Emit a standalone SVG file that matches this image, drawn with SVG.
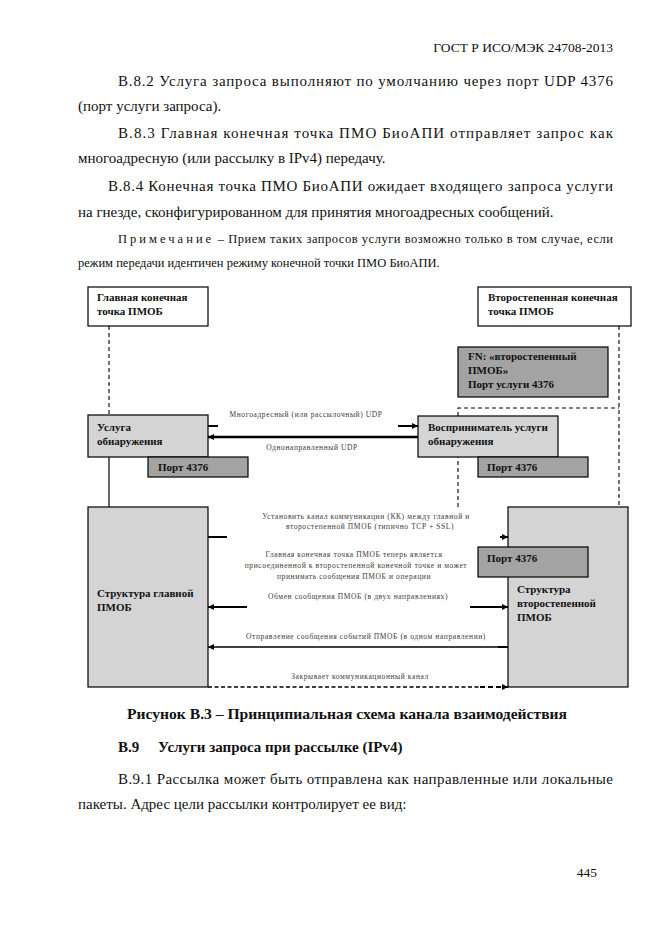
<svg xmlns="http://www.w3.org/2000/svg" width="662" height="935" viewBox="0 0 662 935">
<style>
.body{font-family:"Liberation Serif","DejaVu Serif","Times New Roman",serif;font-size:15px;fill:#111}
.hdr{font-family:"Liberation Serif","DejaVu Serif",serif;font-size:13.5px;fill:#111}
.note{font-family:"Liberation Serif","DejaVu Serif",serif;font-size:12.5px;fill:#111}
.bold{font-family:"Liberation Serif","DejaVu Serif",serif;font-size:15px;font-weight:bold;fill:#111}
.nl{font-family:"Liberation Serif","DejaVu Serif",serif;font-size:11px;font-weight:bold;fill:#111}
.lbl{font-family:"Liberation Serif","DejaVu Serif",serif;font-size:7.5px;fill:#3a3a3a;letter-spacing:0.6px}
.box{stroke:#000;stroke-width:1.2}
.w{fill:#fff}
.lg{fill:#d4d4d4}
.dg{fill:#a3a3a3}
.dash{stroke:#000;stroke-width:1.1;stroke-dasharray:4,3;fill:none}
.ln{stroke:#000;fill:none}
</style>
<defs>
<marker id="ah2" viewBox="0 0 10 10" refX="10" refY="5" markerWidth="7" markerHeight="6" orient="auto" markerUnits="userSpaceOnUse">
<path d="M0,0 L10,5 L0,10 z" fill="#000"/>
</marker>
</defs>
<rect width="662" height="935" fill="#fff"/>

<!-- page text -->
<text class="hdr" x="613" y="52" text-anchor="end">ГОСТ Р ИСО/МЭК 24708-2013</text>
<text class="body" x="118" y="86" textLength="495" lengthAdjust="spacing">В.8.2 Услуга запроса выполняют по умолчанию через порт UDP 4376</text>
<text class="body" x="78" y="111">(порт услуги запроса).</text>
<text class="body" x="118" y="138" textLength="495" lengthAdjust="spacing">В.8.3 Главная конечная точка ПМО БиоАПИ отправляет запрос как</text>
<text class="body" x="78" y="163">многоадресную (или рассылку в IPv4) передачу.</text>
<text class="body" x="108" y="191" textLength="505" lengthAdjust="spacing">В.8.4   Конечная точка ПМО БиоАПИ ожидает входящего запроса услуги</text>
<text class="body" x="78" y="217">на гнезде, сконфигурированном для принятия многоадресных сообщений.</text>
<text class="note" x="118" y="243" textLength="495" lengthAdjust="spacing"><tspan letter-spacing="2.5">Примечание</tspan> – Прием таких запросов услуги возможно только в том случае, если</text>
<text class="note" x="78" y="267">режим передачи идентичен режиму конечной точки ПМО БиоАПИ.</text>

<g id="connectors">
<line class="dash" x1="109" y1="326" x2="109" y2="415"/>
<line class="ln" x1="109" y1="457" x2="109" y2="507" stroke-width="1.2"/>
<line class="dash" x1="619" y1="326" x2="619" y2="507"/>
<polyline class="dash" points="458,507 458,408 619,408"/>

<line class="ln" x1="208" y1="426" x2="218" y2="426" stroke-width="2"/>
<line class="ln" x1="398" y1="426" x2="418" y2="426" stroke-width="2" marker-end="url(#ah2)"/>
<line class="ln" x1="418" y1="437" x2="208" y2="437" stroke-width="2.5" marker-end="url(#ah2)"/>

<line class="ln" x1="208" y1="537" x2="227" y2="537" stroke-width="2"/>
<line class="ln" x1="500" y1="537" x2="508" y2="537" stroke-width="2" marker-end="url(#ah2)"/>
<line class="ln" x1="247" y1="607" x2="208" y2="607" stroke-width="2" marker-end="url(#ah2)"/>
<line class="ln" x1="470" y1="607" x2="508" y2="607" stroke-width="2" marker-end="url(#ah2)"/>
<line class="ln" x1="508" y1="647" x2="208" y2="647" stroke-width="1.3" marker-end="url(#ah2)"/>
<line class="ln" x1="498" y1="647" x2="508" y2="647" stroke-width="2"/>
<line class="ln" x1="208" y1="687" x2="480" y2="687" stroke-width="1.3" stroke-dasharray="4,2.5"/>
<line class="ln" x1="480" y1="687" x2="508" y2="687" stroke-width="2" stroke-dasharray="5,3" marker-end="url(#ah2)"/>
</g>

<g id="main-endpoint">
<rect class="box w" x="88" y="287" width="120" height="39"/>
<text class="nl" x="97" y="301">Главная конечная</text>
<text class="nl" x="97" y="315">точка ПМОБ</text>
</g>
<g id="secondary-endpoint">
<rect class="box w" x="478" y="287" width="153" height="39"/>
<text class="nl" x="488" y="301">Второстепенная конечная</text>
<text class="nl" x="488" y="315">точка ПМОБ</text>
</g>
<g id="fn-box">
<rect class="box dg" x="458" y="347" width="150" height="50"/>
<text class="nl" x="468" y="360">FN: «второстепенный</text>
<text class="nl" x="468" y="374">ПМОБ»</text>
<text class="nl" x="468" y="388">Порт услуги 4376</text>
</g>
<g id="discovery-service">
<rect class="box lg" x="88" y="415" width="120" height="42"/>
<text class="nl" x="97" y="431">Услуга</text>
<text class="nl" x="97" y="445">обнаружения</text>
</g>
<g id="port-left">
<rect class="box dg" x="148" y="457" width="100" height="20"/>
<text class="nl" x="158" y="471">Порт 4376</text>
</g>
<g id="discovery-receiver">
<rect class="box lg" x="418" y="416" width="140" height="41"/>
<text class="nl" x="428" y="431">Восприниматель услуги</text>
<text class="nl" x="428" y="445">обнаружения</text>
</g>
<g id="port-right">
<rect class="box dg" x="478" y="457" width="110" height="20"/>
<text class="nl" x="487" y="471">Порт 4376</text>
</g>
<g id="main-structure">
<rect class="box lg" x="88" y="507" width="120" height="180"/>
<text class="nl" x="97" y="597">Структура главной</text>
<text class="nl" x="97" y="611">ПМОБ</text>
</g>
<g id="secondary-structure">
<rect class="box lg" x="508" y="507" width="120" height="180"/>
<text class="nl" x="517" y="593">Структура</text>
<text class="nl" x="517" y="607">второстепенной</text>
<text class="nl" x="517" y="621">ПМОБ</text>
</g>
<g id="port-struct">
<rect class="box dg" x="478" y="547" width="110" height="30"/>
<text class="nl" x="487" y="562">Порт 4376</text>
</g>

<g id="labels">
<text class="lbl" x="306" y="417" text-anchor="middle">Многоадресный (или рассылочный) UDP</text>
<text class="lbl" x="312" y="450" text-anchor="middle">Однонаправленный UDP</text>
<text class="lbl" x="366" y="519" text-anchor="middle">Установить канал коммуникации (КК) между главной и</text>
<text class="lbl" x="370" y="529" text-anchor="middle">второстепенной ПМОБ (типично TCP + SSL)</text>
<text class="lbl" x="354" y="557" text-anchor="middle">Главная конечная точка ПМОБ теперь является</text>
<text class="lbl" x="356" y="568" text-anchor="middle">присоединенной к второстепенной конечной точке и может</text>
<text class="lbl" x="354" y="579" text-anchor="middle">принимать сообщения ПМОБ и операции</text>
<text class="lbl" x="358" y="599" text-anchor="middle">Обмен сообщения ПМОБ (в двух направлениях)</text>
<text class="lbl" x="366" y="639" text-anchor="middle">Отправление сообщения событий ПМОБ (в одном направлении)</text>
<text class="lbl" x="360" y="679" text-anchor="middle">Закрывает коммуникационный канал</text>
</g>

<text class="bold" x="127" y="719" textLength="440" lengthAdjust="spacingAndGlyphs">Рисунок В.3 – Принципиальная схема канала взаимодействия</text>
<text class="bold" x="118" y="752">В.9</text>
<text class="bold" x="158" y="752">Услуги запроса при рассылке (IPv4)</text>
<text class="body" x="118" y="784" textLength="495" lengthAdjust="spacing">В.9.1 Рассылка может быть отправлена как направленные или локальные</text>
<text class="body" x="78" y="809">пакеты. Адрес цели рассылки контролирует ее вид:</text>
<text class="hdr" x="597" y="877" text-anchor="end">445</text>
</svg>
